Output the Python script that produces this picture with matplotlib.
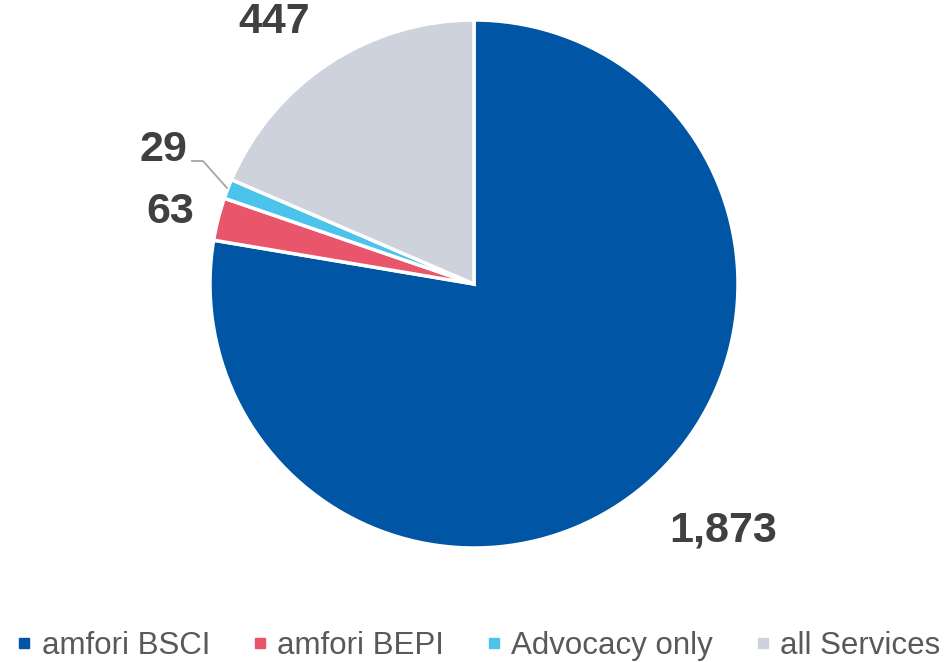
import matplotlib.pyplot as plt
from matplotlib.lines import Line2D

plt.rcParams['font.family'] = ['Liberation Sans', 'DejaVu Sans']

categories = ['amfori BSCI', 'amfori BEPI', 'Advocacy only', 'all Services']
members = [1873, 63, 29, 447]
colors = ['#0055A5', '#E9566B', '#4CC3EA', '#CED2DC']

# label anchor points relative to the pie centre (pixels)
label_pos = [(249, -247), (-304, 72), (-311, 134), (-200, 262)]

W, H = 949, 662
cx, cy, R = 474, 284, 264

fig = plt.figure(figsize=(W / 100, H / 100), dpi=100)
ax = fig.add_axes([0, 0, 1, 1])

ax.pie(members, colors=colors, startangle=90, counterclock=False,
       radius=R, center=(0, 0), frame=True,
       wedgeprops=dict(edgecolor='white', linewidth=2.5))
ax.set_xlim(-cx, W - cx)
ax.set_ylim(-(H - cy), cy)
ax.set_aspect('equal')
ax.axis('off')

for v, (x, y) in zip(members, label_pos):
    ax.text(x, y, f'{v:,}', ha='center', va='center', fontsize=31,
            fontweight='bold', color='#404040')

# leader line for the small slice
ax.plot([-282, -271, -247], [123, 123, 96], color='#A6A6A6', lw=1.3)

handles = [Line2D([], [], marker='s', linestyle='none', markersize=7.5,
                  markerfacecolor=c, markeredgecolor=c) for c in colors]
fig.legend(handles, categories, loc='center', bbox_to_anchor=(477 / W, 1 - 646 / H),
           ncol=4, frameon=False, fontsize=22.5, handlelength=0.7,
           handletextpad=0.2, columnspacing=1.25, labelcolor='#595959',
           borderpad=0, borderaxespad=0)

fig.savefig('out.png', dpi=100)
